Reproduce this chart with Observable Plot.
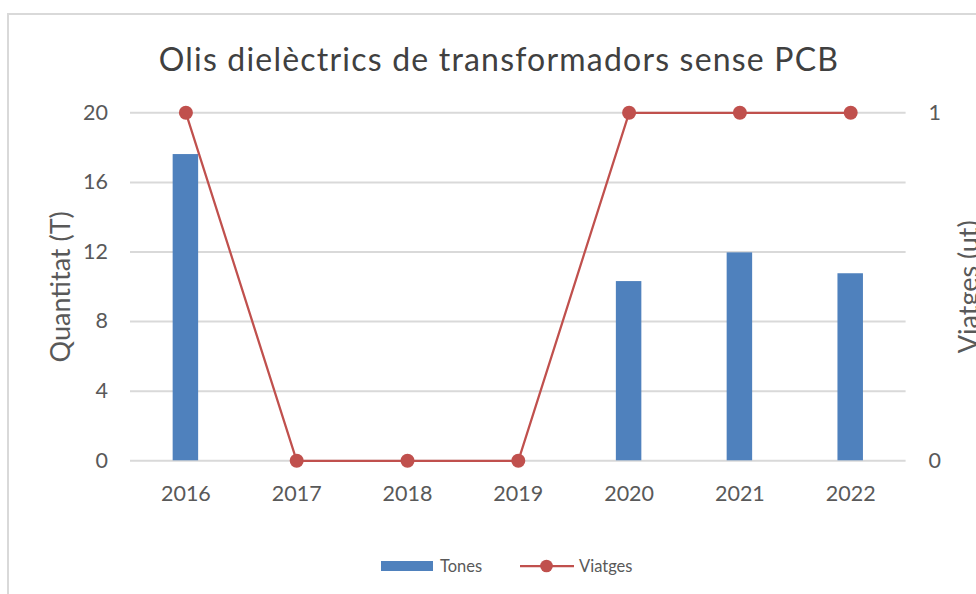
<!DOCTYPE html>
<html>
<head>
<meta charset="utf-8">
<script src="https://cdn.jsdelivr.net/npm/d3@7"></script>
<script src="https://cdn.jsdelivr.net/npm/@observablehq/plot@0.6"></script>
<style>
  html, body { margin: 0; padding: 0; background: #fff; overflow: hidden; }
  #root { position: relative; width: 976px; height: 594px; overflow: hidden; font-family: Lato, sans-serif; }
  #border { position: absolute; left: 7px; top: 13px; width: 1100px; height: 800px; border: 2px solid #d9d9d9; box-sizing: border-box; }
  #title { position: absolute; left: 0; width: 998px; top: 39px; text-align: center; font-size: 32px; letter-spacing: 1.2px; color: #404040; white-space: nowrap; }
  #chart { position: absolute; left: 0; top: 80px; }
  #legend { position: absolute; top: 554px; left: 0; height: 24px; }
  .lg-item { position: absolute; top: 0; height: 24px; display: flex; align-items: center; font-size: 16.5px; color: #595959; white-space: nowrap; }
</style>
</head>
<body>
<div id="root">
  <div id="border"></div>
  <div id="title"></div>
  <div id="chart"></div>
  <div id="legend"></div>
</div>
<script>
// ---- data ----
const years = ["2016", "2017", "2018", "2019", "2020", "2021", "2022"];
const tones = [17.6, 0, 0, 0, 10.3, 11.95, 10.75];
const viatges = [1, 0, 0, 0, 1, 1, 1];
const leftTicks = [0, 4, 8, 12, 16, 20];
const rightTicks = [0, 1];
const titleText = "Olis dielèctrics de transformadors sense PCB";
const leftLabel = "Quantitat (T)";
const rightLabel = "Viatges (ut)";
const seriesNames = ["Tones", "Viatges"];

const leftMax = 20, rightMax = 1;
const factor = leftMax / rightMax;
const barColor = "#4f81bd";
const lineColor = "#c0504d";
const textColor = "#595959";

const data = years.map((y, i) => ({year: y, tones: tones[i], viatges: viatges[i]}));

document.getElementById("title").textContent = titleText;

const chart = Plot.plot({
  width: 976,
  height: 450,
  marginTop: 32.3,
  marginBottom: 69.7,
  marginLeft: 130,
  marginRight: 70.4,
  style: {fontFamily: "Lato, sans-serif", fontSize: "21.5px", color: textColor, background: "transparent"},
  x: {type: "band", domain: years, paddingInner: 0.77, paddingOuter: 0.385, round: false, label: null},
  y: {domain: [0, leftMax], label: null},
  marks: [
    Plot.gridY(leftTicks, {stroke: "#d9d9d9", strokeOpacity: 1, strokeWidth: 2}),
    Plot.axisY({ticks: leftTicks, tickSize: 0, tickPadding: 22.5, label: null, fontSize: 21.5, fill: textColor}),
    Plot.axisY({anchor: "right", ticks: rightTicks.map(v => v * factor), tickFormat: d => d / factor, tickSize: 0, tickPadding: 22.5, label: null, fontSize: 21.5, fill: textColor}),
    Plot.axisX({tickSize: 0, tickPadding: 24.5, label: null, fontSize: 21.5, fill: textColor}),
    Plot.barY(data, {x: "year", y: "tones", fill: barColor}),
    Plot.line(data, {x: "year", y: d => d.viatges * factor, stroke: lineColor, strokeWidth: 2.25}),
    Plot.dot(data, {x: "year", y: d => d.viatges * factor, r: 7, fill: lineColor, stroke: "none"}),
    Plot.text([leftLabel], {frameAnchor: "left", dx: -69, rotate: -90, textAnchor: "middle", text: d => d, fontSize: 27, fill: textColor}),
    Plot.text([rightLabel], {frameAnchor: "right", dx: 63.5, rotate: -90, textAnchor: "middle", text: d => d, fontSize: 27, fill: textColor})
  ]
});
document.getElementById("chart").appendChild(chart);

// ---- legend ----
const legend = document.getElementById("legend");
const item1 = document.createElement("div");
item1.className = "lg-item";
item1.style.left = "381px";
item1.innerHTML = `<span style="display:inline-block;width:52px;height:10px;background:${barColor};margin-right:7px"></span>${seriesNames[0]}`;
legend.appendChild(item1);
const item2 = document.createElement("div");
item2.className = "lg-item";
item2.style.left = "520px";
item2.innerHTML = `<svg width="54" height="16" style="margin-right:5px"><line x1="0" x2="54" y1="8" y2="8" stroke="${lineColor}" stroke-width="2.25"/><circle cx="26.5" cy="8" r="6.3" fill="${lineColor}"/></svg>${seriesNames[1]}`;
legend.appendChild(item2);
</script>
</body>
</html>
